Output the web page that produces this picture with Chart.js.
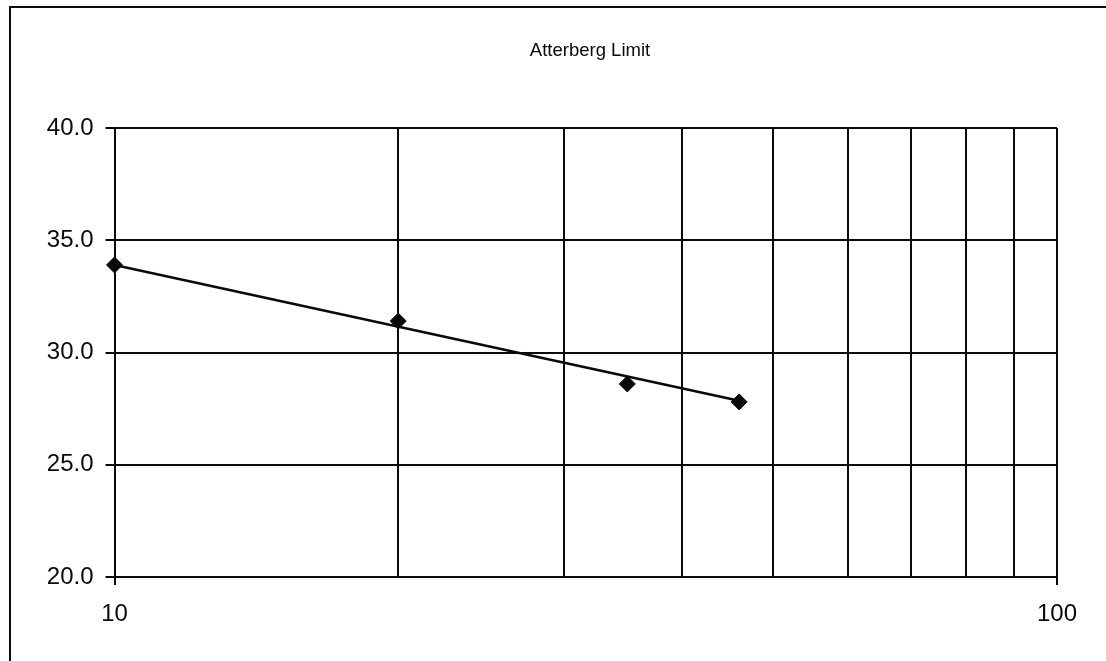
<!DOCTYPE html>
<html>
<head>
<meta charset="utf-8">
<title>Atterberg Limit</title>
<script src="https://cdn.jsdelivr.net/npm/chart.js@4"></script>
<style>
  html, body { margin: 0; padding: 0; background: #ffffff; }
  #wrap { position: relative; width: 1106px; height: 661px; }
  canvas { display: block; }
</style>
</head>
<body>
<div id="wrap"><canvas id="chart" width="1106" height="661"></canvas></div>
<script>
// Number of blows and measured moisture content (%)
const blowCounts = [10, 20, 35, 46];
const moisture = [33.9, 31.4, 28.6, 27.8];

// Trend line end points (logarithmic fit drawn straight on the log axis)
const trendBlows = [10, 46];
const trendMoisture = [33.9, 27.85];

// Axis ranges and tick labels
const xRange = [10, 100];
const xLabeled = [10, 100];
const yRange = [20, 40];
const yStep = 5;

const chartTitle = 'Atterberg Limit';

const INK = '#0a0a0a';
const FONT = "'Liberation Sans', Arial, sans-serif";

// White background, outer frame (top and left edges) and the chart title
const framePlugin = {
  id: 'frame',
  beforeDraw(chart) {
    const ctx = chart.ctx;
    ctx.save();
    ctx.fillStyle = '#ffffff';
    ctx.fillRect(0, 0, chart.width, chart.height);
    ctx.strokeStyle = INK;
    ctx.lineWidth = 2;
    ctx.strokeRect(10, 7, chart.width + 20, chart.height + 20);
    ctx.fillStyle = INK;
    ctx.font = '18.5px ' + FONT;
    ctx.textAlign = 'center';
    ctx.textBaseline = 'middle';
    ctx.fillText(chartTitle, 590, 51);
    ctx.restore();
  }
};

const isDecade = v => Math.abs(Math.log10(v) - Math.round(Math.log10(v))) < 1e-9;

new Chart(document.getElementById('chart'), {
  type: 'scatter',
  data: {
    datasets: [
      {
        label: 'Moisture content',
        data: blowCounts.map((x, i) => ({ x, y: moisture[i] })),
        pointStyle: 'rectRot',
        pointRadius: 8,
        pointHoverRadius: 8,
        backgroundColor: INK,
        borderColor: INK,
        borderWidth: 1,
        showLine: false,
        clip: false,
        order: 1
      },
      {
        label: 'Trend',
        data: trendBlows.map((x, i) => ({ x, y: trendMoisture[i] })),
        showLine: true,
        borderColor: INK,
        borderWidth: 2.5,
        pointRadius: 0,
        fill: false,
        clip: false,
        order: 2
      }
    ]
  },
  options: {
    responsive: false,
    animation: false,
    events: [],
    layout: { padding: { left: 0, right: 49, top: 128, bottom: 0 } },
    plugins: {
      legend: { display: false },
      tooltip: { enabled: false },
      title: { display: false }
    },
    scales: {
      x: {
        type: 'logarithmic',
        min: xRange[0],
        max: xRange[1],
        afterBuildTicks(scale) {
          const ticks = [];
          for (let d = xRange[0]; d <= xRange[1]; d += 10) ticks.push({ value: d, major: isDecade(d) });
          scale.ticks = ticks;
        },
        afterFit(scale) { scale.height = 84; },
        grid: {
          color: INK,
          lineWidth: 2,
          drawTicks: true,
          tickLength: 8,
          tickColor: ctx => (ctx.tick && isDecade(ctx.tick.value)) ? INK : 'rgba(0,0,0,0)'
        },
        border: { display: true, color: INK, width: 2 },
        ticks: {
          color: INK,
          font: { family: FONT, size: 24 },
          padding: 15,
          maxRotation: 0,
          autoSkip: false,
          callback: v => xLabeled.includes(v) ? String(v) : ''
        }
      },
      y: {
        type: 'linear',
        min: yRange[0],
        max: yRange[1],
        afterFit(scale) { scale.width = 114.5; },
        grid: {
          color: INK,
          lineWidth: 2,
          tickLength: 9,
          tickColor: INK
        },
        border: { display: true, color: INK, width: 2 },
        ticks: {
          stepSize: yStep,
          color: INK,
          font: { family: FONT, size: 24 },
          padding: 12,
          callback: v => Number(v).toFixed(1)
        }
      }
    }
  },
  plugins: [framePlugin]
});
</script>
</body>
</html>
